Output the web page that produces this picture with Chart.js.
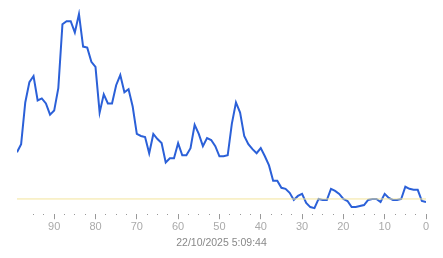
<!DOCTYPE html>
<html>
<head>
<meta charset="utf-8">
<script src="https://cdn.jsdelivr.net/npm/chart.js@4/dist/chart.umd.min.js"></script>
<style>
    html, body { margin: 0; padding: 0; background: #fff; }
    #grafico { display: block; }
</style>
</head>
<body>
<canvas id="grafico" width="443" height="258"></canvas>
<script>
// minutos hacia atras (99 ... 0)
const minutos = [
    99, 98, 97, 96, 95, 94, 93, 92, 91, 90,
    89, 88, 87, 86, 85, 84, 83, 82, 81, 80,
    79, 78, 77, 76, 75, 74, 73, 72, 71, 70,
    69, 68, 67, 66, 65, 64, 63, 62, 61, 60,
    59, 58, 57, 56, 55, 54, 53, 52, 51, 50,
    49, 48, 47, 46, 45, 44, 43, 42, 41, 40,
    39, 38, 37, 36, 35, 34, 33, 32, 31, 30,
    29, 28, 27, 26, 25, 24, 23, 22, 21, 20,
    19, 18, 17, 16, 15, 14, 13, 12, 11, 10,
    9, 8, 7, 6, 5, 4, 3, 2, 1, 0
];

const valores = [
    61, 69, 110, 130, 136, 112, 114, 109, 98, 102,
    124, 187, 190, 190, 179, 197, 165, 164, 150, 145,
    100, 118, 109, 109, 127, 137, 120, 123, 106, 79,
    77, 76, 60, 79, 74, 70, 51, 55, 55, 70,
    58, 58, 65, 88, 79, 67, 75, 73, 67, 57,
    57, 58, 89, 110, 100, 77, 69, 64, 60, 65,
    57, 48, 33, 33, 26, 25, 21, 14, 18, 20,
    11, 7, 6, 15, 14, 14, 25, 23, 20, 15,
    13, 7, 7, 8, 9, 14, 15, 15, 12, 20,
    16, 14, 14, 15, 27, 25, 24, 24, 13, 12
];

const limite = 15;
const marcasEje = [0, 10, 20, 30, 40, 50, 60, 70, 80, 90];
const tituloEje = "22/10/2025 5:09:44";

const puntos = minutos.map((m, i) => ({ x: m, y: valores[i] }));
const lineaLimite = [
    { x: minutos[0], y: limite },
    { x: minutos[minutos.length - 1], y: limite }
];

new Chart(document.getElementById("grafico"), {
    type: "line",
    data: {
        datasets: [
            {
                label: "limite",
                data: lineaLimite,
                borderColor: "#f3e49a",
                borderWidth: 1,
                pointRadius: 0
            },
            {
                label: "valor",
                data: puntos,
                borderColor: "#2b60d8",
                borderWidth: 2,
                pointRadius: 0,
                tension: 0
            }
        ]
    },
    options: {
        responsive: false,
        animation: false,
        layout: { padding: { left: 17, right: 17, top: 9, bottom: 9 } },
        plugins: {
            legend: { display: false },
            tooltip: { enabled: false }
        },
        scales: {
            x: {
                type: "linear",
                reverse: true,
                min: 0,
                max: 99,
                border: { display: false },
                grid: {
                    drawOnChartArea: false,
                    tickLength: 5,
                    tickWidth: 1,
                    tickColor: "#999",
                    tickBorderDash: ctx => marcasEje.includes(ctx.tick.value) ? [] : [1, 20]
                },
                afterBuildTicks: axis => {
                    axis.ticks = axis.ticks.filter(t => (t.value * 2) % 5 === 0);
                },
                ticks: {
                    stepSize: 2.5,
                    autoSkip: false,
                    maxRotation: 0,
                    padding: 1,
                    color: "#aaa",
                    font: { family: "Liberation Sans", size: 11 },
                    callback: v => marcasEje.includes(v) ? String(v) : ""
                },
                title: {
                    display: true,
                    text: tituloEje,
                    color: "#888",
                    font: { family: "Liberation Sans", size: 10.5 },
                    padding: { top: 2, bottom: 0 }
                }
            },
            y: {
                display: false,
                min: 0,
                max: 202
            }
        }
    }
});
</script>
</body>
</html>
